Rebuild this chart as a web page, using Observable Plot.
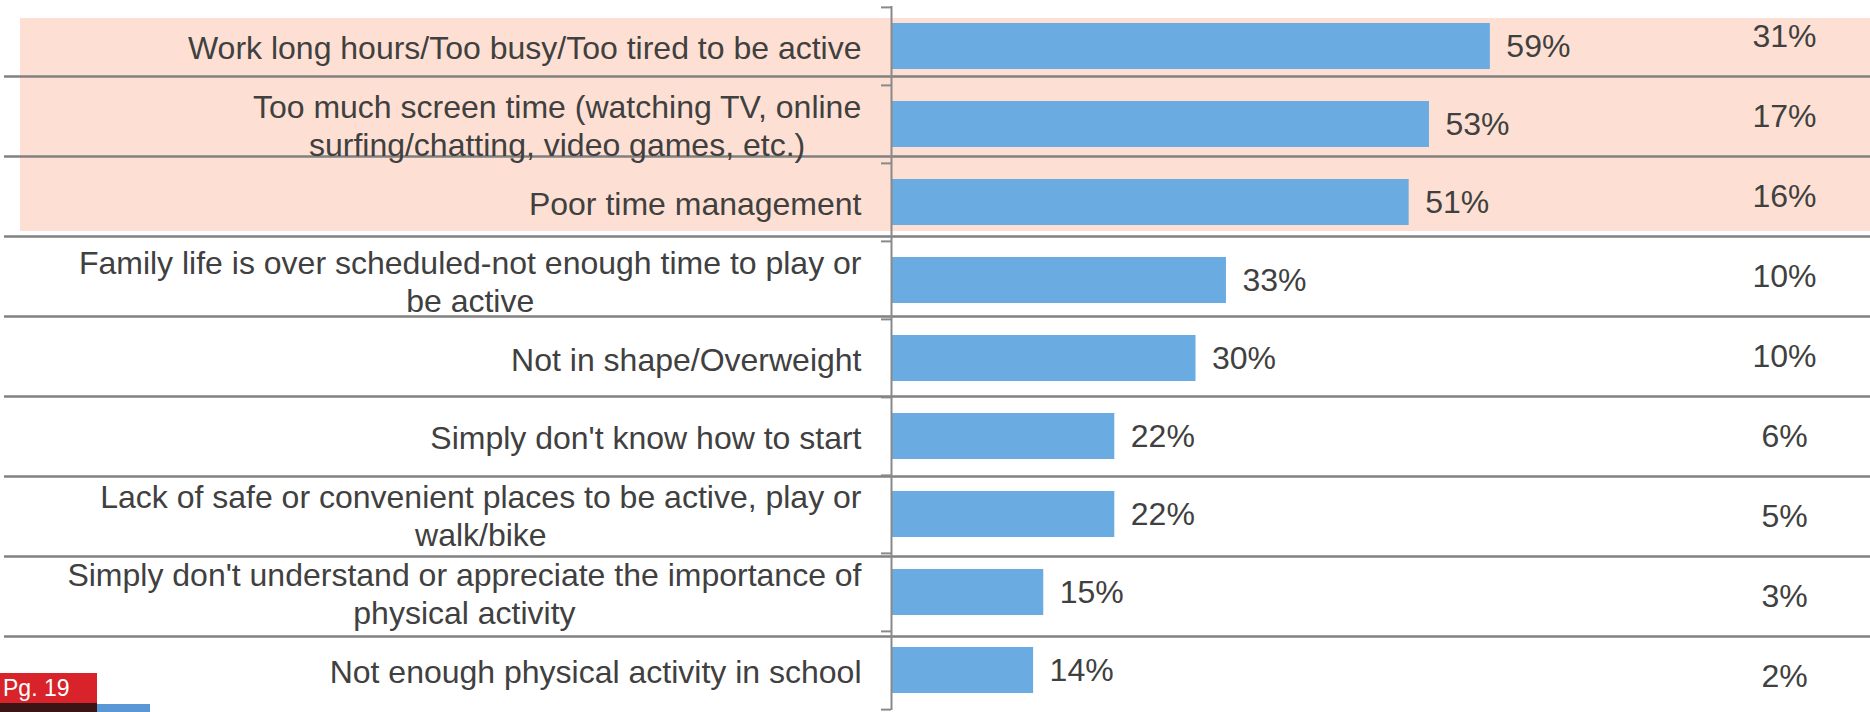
<!DOCTYPE html>
<html>
<head>
<meta charset="utf-8">
<script src="https://cdn.jsdelivr.net/npm/d3@7"></script>
<script src="https://cdn.jsdelivr.net/npm/@observablehq/plot@0.6"></script>
<style>
  body { margin: 0; background: #fff; }
  #wrap { position: relative; width: 1870px; height: 712px; overflow: hidden; font-family: "Liberation Sans", Arial, sans-serif; }
  #wrap svg { position: absolute; left: 0; top: 0; }
  .badge { position: absolute; left: 0; top: 673px; width: 97px; height: 30px; background: #d8232a; color: #fff;
           font-size: 23px; line-height: 30px; padding-left: 3px; box-sizing: border-box; }
  .badge-shadow { position: absolute; left: 0; top: 703px; width: 97px; height: 9px; background: #3b1416; }
  .badge-blue { position: absolute; left: 97px; top: 704px; width: 53px; height: 8px; background: #5a97d6; }
</style>
</head>
<body>
<div id="wrap"></div>
<script>
// ---- data ----
const categories = [
  "Work long hours/Too busy/Too tired to be active",
  "Too much screen time (watching TV, online\nsurfing/chatting, video games, etc.)",
  "Poor time management",
  "Family life is over scheduled-not enough time to play or\nbe active",
  "Not in shape/Overweight",
  "Simply don't know how to start",
  "Lack of safe or convenient places to be active, play or\nwalk/bike",
  "Simply don't understand or appreciate the importance of\nphysical activity",
  "Not enough physical activity in school"
];
const allReasons = [59, 53, 51, 33, 30, 22, 22, 15, 14];
const topReason  = [31, 17, 16, 10, 10, 6, 5, 3, 2];
const highlighted = categories.slice(0, 3);
const pageLabel = "Pg. 19";

const rows = categories.map((c, i) => ({category: c, value: allReasons[i], top: topReason[i]}));

// ---- styles ----
const W = 1870, H = 712;
const FONT = '"Liberation Sans", Arial, sans-serif';
const FS = 32;
const TEXT = "#404040";
const GRAY = "#898989";
const BLUE = "#6aabe2";
const PINK = "#fde0d3";

// text measurement for centered multi-line labels
const ctx = document.createElement("canvas").getContext("2d");
ctx.font = `${FS}px "Liberation Sans"`;
const blockWidth = s => Math.max(...s.split("\n").map(l => ctx.measureText(l).width));

// ---- table layer (highlight, separators, second column) ----
const tTop = -4, tBottom = 716;
const tStep = (tBottom - tTop) / categories.length;
const pinkMarks = highlighted.map((c, i) => Plot.cell([c], {
  y: d => d, fill: PINK, insetLeft: 16,
  insetTop: i === 0 ? 22 : 0,
  insetBottom: i === highlighted.length - 1 ? 5 : 0
}));

const table = Plot.plot({
  width: W, height: H,
  marginTop: 0, marginBottom: 0, marginLeft: 4, marginRight: 0,
  y: {domain: categories, range: [tTop, tBottom], padding: 0, axis: null},
  style: {fontFamily: FONT, background: "transparent", overflow: "visible"},
  marks: [
    ...pinkMarks,
    Plot.ruleY(categories.slice(1), {y: d => d, dy: -tStep / 2, stroke: "#808080", strokeWidth: 2.5}),
    Plot.text(rows, {y: "category", text: d => d.top + "%", frameAnchor: "right", dx: -86,
                     textAnchor: "middle", fontSize: FS, fill: TEXT})
  ]
});

// ---- chart layer ----
const mTop = 6, mBottom = 2;
const step = (H - mTop - mBottom) / categories.length;
const labelMarks = categories.map(c => Plot.text([c], {
  x: () => 0, y: d => d, text: d => d,
  textAnchor: "middle", lineAnchor: "middle", lineHeight: 1.19,
  dx: -30 - blockWidth(c) / 2,
  fontSize: FS, fill: TEXT
}));

const chart = Plot.plot({
  width: W, height: H,
  marginTop: mTop, marginBottom: mBottom, marginLeft: 891, marginRight: 0,
  x: {domain: [0, 96.45], axis: null},
  y: {domain: categories, padding: 0},
  style: {fontFamily: FONT, background: "transparent", overflow: "visible"},
  marks: [
    Plot.barX(rows, {x: "value", y: "category", fill: BLUE, insetTop: 16, insetBottom: 16}),
    Plot.axisY({tickSize: 10, tickFormat: () => "", dy: -step / 2, stroke: GRAY, strokeWidth: 2, label: null}),
    Plot.axisY({ticks: [categories[categories.length - 1]], tickSize: 10, tickFormat: () => "", dy: step / 2,
                stroke: GRAY, strokeWidth: 2, label: null}),
    Plot.ruleX([0], {stroke: GRAY, strokeWidth: 2}),
    Plot.text(rows, {x: "value", y: "category", text: d => d.value + "%", dx: 16, textAnchor: "start",
                     fontSize: FS, fill: TEXT}),
    ...labelMarks
  ]
});

const wrap = document.getElementById("wrap");
wrap.append(table, chart);

const shadow = document.createElement("div"); shadow.className = "badge-shadow";
const blue = document.createElement("div"); blue.className = "badge-blue";
const badge = document.createElement("div"); badge.className = "badge"; badge.textContent = pageLabel;
wrap.append(shadow, blue, badge);
</script>
</body>
</html>
